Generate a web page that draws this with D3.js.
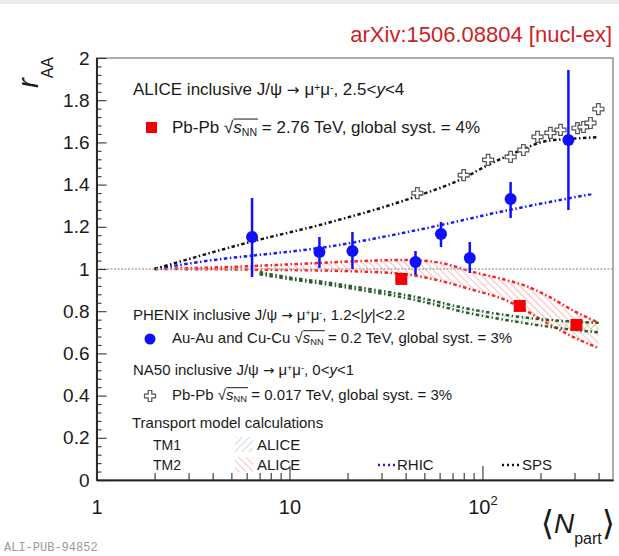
<!DOCTYPE html>
<html>
<head>
<meta charset="utf-8">
<script src="https://cdn.jsdelivr.net/npm/d3@7"></script>
<style>
body { margin: 0; background: #fff; }
svg text { font-family: "Liberation Sans", Arial, sans-serif; fill: #1a1a1a; }
</style>
</head>
<body>
<div id="chart"></div>
<script>
// ALICE Pb-Pb 2.76 TeV
const aliceN = [38, 156, 307];
const aliceR = [0.953, 0.825, 0.735];

// PHENIX Au-Au and Cu-Cu 0.2 TeV
const phenixN = [6.4, 14.3, 21.2, 45, 61, 86, 140, 279];
const phenixR = [1.152, 1.081, 1.085, 1.033, 1.166, 1.052, 1.332, 1.611];
const phenixLo = [0.962, 1.005, 1.0, 0.972, 1.104, 0.981, 1.242, 1.28];
const phenixHi = [1.336, 1.152, 1.175, 1.085, 1.223, 1.128, 1.412, 1.943];

// NA50 Pb-Pb 0.017 TeV
const na50N = [46, 80, 107, 140, 163, 193, 225, 254, 311, 334, 363, 399];
const na50R = [1.36, 1.445, 1.517, 1.531, 1.564, 1.626, 1.645, 1.659, 1.668, 1.673, 1.692, 1.758];

// transport model curves
const spsN = [2, 6.2, 16, 46, 80, 107, 150, 216, 300, 400];
const spsR = [1.0, 1.127, 1.22, 1.346, 1.431, 1.493, 1.554, 1.607, 1.618, 1.625];
const rhicN = [2, 4.9, 6.2, 14.4, 49, 138, 368];
const rhicR = [1.0, 1.052, 1.062, 1.1, 1.19, 1.28, 1.355];

const tm2N = [2, 5, 10, 20, 40, 60, 90, 130, 170, 220, 300, 400];
const tm2Hi = [1.0, 1.01, 1.022, 1.035, 1.043, 1.03, 0.985, 0.95, 0.918, 0.87, 0.8, 0.745];
const tm2Lo = [1.0, 0.998, 0.995, 0.99, 0.975, 0.945, 0.9, 0.855, 0.8, 0.74, 0.675, 0.625];

const tm1N = [7, 10, 16, 26, 44, 86, 150, 250, 400];
const tm1Hi = [0.985, 0.96, 0.935, 0.905, 0.87, 0.81, 0.775, 0.755, 0.745];
const tm1Lo = [0.975, 0.952, 0.925, 0.893, 0.855, 0.79, 0.75, 0.72, 0.7];

// axis ticks
const yMajor = [0, 0.2, 0.4, 0.6, 0.8, 1, 1.2, 1.4, 1.6, 1.8, 2];
const yMinor = d3.range(0, 2.001, 0.04).filter(v => Math.abs(v * 5 - Math.round(v * 5)) > 0.01);
const xMajor = [1, 10, 100];
const xMinor = [2, 3, 4, 5, 6, 7, 8, 9, 20, 30, 40, 50, 60, 70, 80, 90, 200, 300, 400];

const width = 619, height = 556;
const frame = { left: 96.5, right: 613, top: 58, bottom: 480 };

const svg = d3.select("#chart").append("svg")
    .attr("width", width)
    .attr("height", height);

svg.append("rect").attr("x", 0).attr("y", 0).attr("width", width).attr("height", 4).attr("fill", "#ececec");

const x = d3.scaleLog().domain([1, 475]).range([frame.left, frame.right]);
const y = d3.scaleLinear().domain([0, 2]).range([frame.bottom, frame.top]);

// hatch patterns
const defs = svg.append("defs");
function hatch(id, color, angle) {
    defs.append("pattern")
        .attr("id", id)
        .attr("patternUnits", "userSpaceOnUse")
        .attr("width", 5).attr("height", 5)
        .attr("patternTransform", "rotate(" + angle + ")")
        .append("line")
        .attr("x1", 0).attr("y1", 0).attr("x2", 0).attr("y2", 5)
        .attr("stroke", color).attr("stroke-width", 1.2);
}
hatch("hatchRed", "#ff8c8c", -45);
hatch("hatchGreen", "#9cc79c", 45);

defs.append("clipPath").attr("id", "clip")
    .append("rect")
    .attr("x", frame.left).attr("y", frame.top)
    .attr("width", frame.right - frame.left).attr("height", frame.bottom - frame.top);

// frame
svg.append("rect")
    .attr("x", frame.left).attr("y", frame.top)
    .attr("width", frame.right - frame.left).attr("height", frame.bottom - frame.top)
    .attr("fill", "none").attr("stroke", "#777").attr("stroke-width", 1.2);

const plot = svg.append("g").attr("clip-path", "url(#clip)");

const dashDot = "3.5,2.5,1.5,2.5";

// bands
function band(ns, lo, hi, fill, stroke) {
    const pts = ns.map((n, i) => ({ n: n, lo: lo[i], hi: hi[i] }));
    plot.append("path").datum(pts)
        .attr("fill", fill)
        .attr("d", d3.area().curve(d3.curveMonotoneX).x(d => x(d.n)).y0(d => y(d.lo)).y1(d => y(d.hi)));
    [lo, hi].forEach(vals => {
        plot.append("path").datum(ns.map((n, i) => ({ n: n, r: vals[i] })))
            .attr("fill", "none").attr("stroke", stroke).attr("stroke-width", 2.5)
            .attr("stroke-dasharray", dashDot)
            .attr("d", d3.line().curve(d3.curveMonotoneX).x(d => x(d.n)).y(d => y(d.r)));
    });
}
band(tm2N, tm2Lo, tm2Hi, "url(#hatchRed)", "#ff2020");
band(tm1N, tm1Lo, tm1Hi, "url(#hatchGreen)", "#2a5e2a");

function curve(ns, rs, color) {
    plot.append("path").datum(ns.map((n, i) => ({ n: n, r: rs[i] })))
        .attr("fill", "none").attr("stroke", color).attr("stroke-width", 2.5)
        .attr("stroke-dasharray", dashDot)
        .attr("d", d3.line().curve(d3.curveMonotoneX).x(d => x(d.n)).y(d => y(d.r)));
}
curve(rhicN, rhicR, "#1a1aff");
curve(spsN, spsR, "#111");

// r = 1 reference
plot.append("line")
    .attr("x1", x(1)).attr("x2", x(475)).attr("y1", y(1)).attr("y2", y(1))
    .attr("stroke", "#aaa").attr("stroke-width", 1.5).attr("stroke-dasharray", "2,1.5");

// open cross marker
const crossPath = "M-1.8,-5.5L1.8,-5.5L1.8,-1.8L5.5,-1.8L5.5,1.8L1.8,1.8L1.8,5.5L-1.8,5.5L-1.8,1.8L-5.5,1.8L-5.5,-1.8L-1.8,-1.8Z";

plot.selectAll(".na50").data(na50N).join("path")
    .attr("class", "na50")
    .attr("transform", (d, i) => "translate(" + x(d) + "," + y(na50R[i]) + ")")
    .attr("d", crossPath)
    .attr("fill", "#fff").attr("stroke", "#555").attr("stroke-width", 1.2);

// PHENIX
plot.selectAll(".perr").data(phenixN).join("line")
    .attr("class", "perr")
    .attr("x1", d => x(d)).attr("x2", d => x(d))
    .attr("y1", (d, i) => y(phenixLo[i])).attr("y2", (d, i) => y(phenixHi[i]))
    .attr("stroke", "#1010ff").attr("stroke-width", 2.5);
plot.selectAll(".pdot").data(phenixN).join("circle")
    .attr("class", "pdot")
    .attr("cx", d => x(d)).attr("cy", (d, i) => y(phenixR[i]))
    .attr("r", 6).attr("fill", "#1010ff");

// ALICE
plot.selectAll(".adot").data(aliceN).join("rect")
    .attr("class", "adot")
    .attr("x", d => x(d) - 6).attr("y", (d, i) => y(aliceR[i]) - 6)
    .attr("width", 12).attr("height", 12).attr("fill", "#f00000");

// axes
const yAxis = svg.append("g").attr("transform", "translate(" + frame.left + ",0)")
    .call(d3.axisLeft(y).tickValues(yMajor).tickFormat(d3.format("")).tickSizeInner(-10).tickSizeOuter(0).tickPadding(7));
svg.append("g").attr("transform", "translate(" + frame.left + ",0)")
    .call(d3.axisLeft(y).tickValues(yMinor).tickFormat("").tickSizeInner(-5).tickSizeOuter(0));
const xAxis = svg.append("g").attr("transform", "translate(0," + frame.bottom + ")")
    .call(d3.axisBottom(x).tickValues(xMajor).tickFormat(d => d === 100 ? "10" : String(d)).tickSizeInner(-14).tickSizeOuter(0).tickPadding(20));
svg.append("g").attr("transform", "translate(0," + frame.bottom + ")")
    .call(d3.axisBottom(x).tickValues(xMinor).tickFormat("").tickSizeInner(-7).tickSizeOuter(0));

svg.selectAll(".domain").attr("stroke", "#222").attr("stroke-width", 1.5);
svg.selectAll(".tick line").attr("stroke", "#333").attr("stroke-width", 1.1);
yAxis.selectAll("text").attr("font-size", 19).attr("font-family", "Liberation Sans, Arial, sans-serif").attr("fill", "#1a1a1a");
xAxis.selectAll("text").attr("font-size", 20).attr("font-family", "Liberation Sans, Arial, sans-serif").attr("fill", "#1a1a1a");
xAxis.selectAll(".tick").filter(d => d === 100).select("text")
    .append("tspan").attr("font-size", 13).attr("dy", "-0.7em").text("2");

// axis titles
const yt = svg.append("text")
    .attr("transform", "translate(38,57) rotate(-90)")
    .attr("text-anchor", "end");
yt.append("tspan").attr("font-size", 29).attr("font-style", "italic").text("r");
yt.append("tspan").attr("font-size", 16).attr("dy", 15).text("AA");

const xt = svg.append("text").attr("x", 615).attr("y", 533).attr("text-anchor", "end");
xt.append("tspan").attr("font-size", 34).attr("font-family", "DejaVu Sans").attr("dy", 2).text("\u27e8");
xt.append("tspan").attr("font-size", 28).attr("font-style", "italic").attr("dy", -2).text("N");
xt.append("tspan").attr("font-size", 16).attr("dy", 11).text("part");
xt.append("tspan").attr("font-size", 34).attr("font-family", "DejaVu Sans").attr("dy", -9).text("\u27e9");

// top label and footer
svg.append("text").attr("x", 612).attr("y", 42).attr("text-anchor", "end")
    .attr("font-size", 22).style("fill", "#cc1f26").text("arXiv:1506.08804 [nucl-ex]");
svg.append("text").attr("x", 4).attr("y", 551)
    .attr("font-size", 12).style("font-family", "Liberation Mono, monospace").style("fill", "#9a9a9a")
    .text("ALI-PUB-94852");

// legend text builder
function richText(px, py, size, parts) {
    const t = svg.append("text").attr("x", px).attr("y", py).attr("font-size", size);
    let overStart = null;
    parts.forEach(p => {
        const s = t.append("tspan").text(p.t);
        if (p.i) s.attr("font-style", "italic");
        if (p.arrow) s.attr("font-family", "DejaVu Sans").attr("font-size", size * 0.9);
        if (p.sup) s.attr("font-size", size * 0.6).attr("baseline-shift", "45%");
        if (p.sub) s.attr("font-size", size * 0.62).attr("baseline-shift", "-25%");
        if (p.root) overStart = s;
        if (p.rootEnd) {
            const a = overStart.node().getBBox();
            const b = s.node().getBBox();
            svg.append("line")
                .attr("x1", a.x + a.width - 0.5).attr("x2", b.x + b.width + 1)
                .attr("y1", py - size * 0.82).attr("y2", py - size * 0.82)
                .attr("stroke", "#1a1a1a").attr("stroke-width", 1);
        }
    });
    return t;
}
const muPair = [{ t: "J/\u03c8 " }, { t: "\u2192", arrow: true }, { t: " \u03bc" }, { t: "+", sup: true }, { t: "\u03bc" }, { t: "-", sup: true }];
const sqrtS = [{ t: "\u221a", root: true }, { t: "s", i: true }, { t: "NN", sub: true, rootEnd: true }];

richText(133, 95, 17, [{ t: "ALICE inclusive " }, ...muPair, { t: ", 2.5<" }, { t: "y", i: true }, { t: "<4" }]);
richText(172, 133, 17, [{ t: "Pb-Pb " }, ...sqrtS, { t: " = 2.76 TeV, global syst. = 4%" }]);
richText(133, 320, 15, [{ t: "PHENIX inclusive " }, ...muPair, { t: ", 1.2<|" }, { t: "y", i: true }, { t: "|<2.2" }]);
richText(172, 343, 15, [{ t: "Au-Au and Cu-Cu " }, ...sqrtS, { t: " = 0.2 TeV, global syst. = 3%" }]);
richText(133, 375, 15, [{ t: "NA50 inclusive " }, ...muPair, { t: ", 0<" }, { t: "y", i: true }, { t: "<1" }]);
richText(172, 400, 15, [{ t: "Pb-Pb " }, ...sqrtS, { t: " = 0.017 TeV, global syst. = 3%" }]);
richText(132, 428, 15, [{ t: "Transport model calculations" }]);
richText(153, 450, 14, [{ t: "TM1" }]);
richText(153, 470, 14, [{ t: "TM2" }]);
richText(257, 450, 15, [{ t: "ALICE" }]);
richText(257, 470, 15, [{ t: "ALICE" }]);
richText(397, 470, 15, [{ t: "RHIC" }]);
richText(522, 470, 15, [{ t: "SPS" }]);

// legend markers
svg.append("rect").attr("x", 146).attr("y", 122).attr("width", 11).attr("height", 11).attr("fill", "#f00000");
svg.append("circle").attr("cx", 150).attr("cy", 339).attr("r", 5.5).attr("fill", "#1010ff");
svg.append("path").attr("transform", "translate(150,396)").attr("d", crossPath)
    .attr("fill", "#fff").attr("stroke", "#555").attr("stroke-width", 1.2);
svg.append("rect").attr("x", 235).attr("y", 437).attr("width", 18).attr("height", 15).attr("fill", "url(#hatchGreen)");
svg.append("rect").attr("x", 235).attr("y", 457).attr("width", 18).attr("height", 15).attr("fill", "url(#hatchRed)");
svg.append("line").attr("x1", 378).attr("x2", 396).attr("y1", 465).attr("y2", 465)
    .attr("stroke", "#1a1aff").attr("stroke-width", 2.5).attr("stroke-dasharray", "2,3");
svg.append("line").attr("x1", 502).attr("x2", 519).attr("y1", 465).attr("y2", 465)
    .attr("stroke", "#111").attr("stroke-width", 2.5).attr("stroke-dasharray", "2,3");
</script>
</body>
</html>
